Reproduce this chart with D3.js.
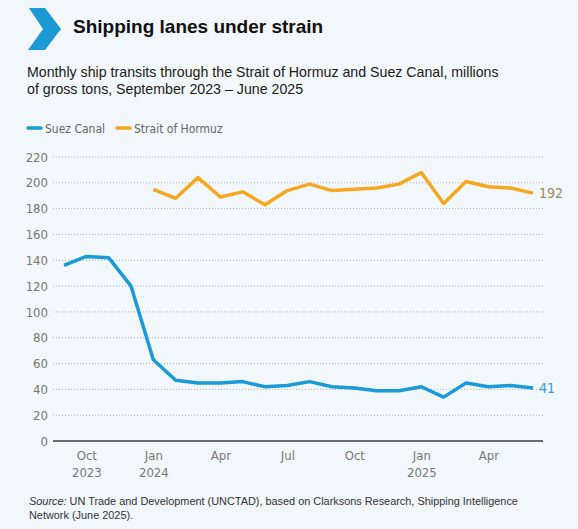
<!DOCTYPE html>
<html lang="en">
<head>
    <meta charset="UTF-8">
    <title>Shipping lanes under strain</title>
    <script src="https://cdn.jsdelivr.net/npm/d3@7/dist/d3.min.js"></script>
    <style>
        body {
            margin: 0;
            padding: 0;
            background: #f2f7fb;
        }
        svg text {
            font-family: "Liberation Sans", Arial, sans-serif;
        }
        .narrow {
            font-family: "Liberation Sans Narrow", "DejaVu Sans Condensed", "Liberation Sans", sans-serif !important;
        }
    </style>
</head>
<body>
<svg width="578" height="529" id="mainsvg"></svg>
<script>
    // Sep 2023 .. Jun 2025, one entry per month
    const months = ["2023-09", "2023-10", "2023-11", "2023-12",
        "2024-01", "2024-02", "2024-03", "2024-04", "2024-05", "2024-06",
        "2024-07", "2024-08", "2024-09", "2024-10", "2024-11", "2024-12",
        "2025-01", "2025-02", "2025-03", "2025-04", "2025-05", "2025-06"];
    const suez = [136, 143, 142, 120, 63, 47, 45, 45, 46, 42, 43, 46, 42, 41, 39, 39,
        42, 34, 45, 42, 43, 41];
    // Hormuz series starts in Jan 2024
    const hormuz = [null, null, null, null, 195, 188, 204, 189, 193, 183, 194, 199, 194, 195, 196, 199,
        208, 184, 201, 197, 196, 192];
    const tickMonths = ["2023-10", "2024-01", "2024-04", "2024-07", "2024-10", "2025-01", "2025-04"];
    const tickLine1 = ["Oct", "Jan", "Apr", "Jul", "Oct", "Jan", "Apr"];
    const tickLine2 = ["2023", "2024", "", "", "", "2025", ""];
    const yTicks = [0, 20, 40, 60, 80, 100, 120, 140, 160, 180, 200, 220];

    const blue = "#1b9ad6";
    const orange = "#f5a81f";

    const svg = d3.select("#mainsvg");

    // header
    svg.append("path")
        .attr("d", "M29,8 L45,8 L61,29 L45,50 L28,50 L43,29 Z")
        .attr("fill", blue);
    svg.append("text")
        .attr("x", 73).attr("y", 33)
        .attr("font-size", "19px")
        .attr("font-weight", "bold")
        .attr("fill", "#111")
        .text("Shipping lanes under strain");
    let sub = svg.append("text")
        .attr("font-size", "14.2px")
        .attr("fill", "#1a1a1a");
    sub.append("tspan").attr("x", 27).attr("y", 77)
        .text("Monthly ship transits through the Strait of Hormuz and Suez Canal, millions");
    sub.append("tspan").attr("x", 27).attr("y", 94)
        .text("of gross tons, September 2023 \u2013 June 2025");

    // legend
    let legend = [["Suez Canal", blue, 28], ["Strait of Hormuz", orange, 117]];
    for (let i = 0; i < legend.length; ++i) {
        svg.append("line")
            .attr("x1", legend[i][2]).attr("x2", legend[i][2] + 13)
            .attr("y1", 128).attr("y2", 128)
            .attr("stroke", legend[i][1])
            .attr("stroke-width", 3.5)
            .attr("stroke-linecap", "round");
        svg.append("text")
            .attr("class", "narrow")
            .attr("x", legend[i][2] + 17).attr("y", 132.5)
            .attr("font-size", "12px")
            .attr("fill", "#666")
            .text(legend[i][0]);
    }

    // scales
    const x = d3.scaleLinear().domain([0, months.length - 1]).range([64, 533]);
    const y = d3.scaleLinear().domain([0, 220]).range([441, 157]);
    const left = 53, right = 543;

    // grid + y labels
    const yAxis = d3.axisLeft(y).tickValues(yTicks).tickSize(0).tickPadding(0);
    let gy = svg.append("g").attr("transform", "translate(48,0)").call(yAxis);
    gy.select(".domain").remove();
    gy.selectAll("text")
        .attr("class", "narrow")
        .attr("font-size", "13px")
        .attr("fill", "#777");
    svg.append("g").selectAll("line")
        .data(yTicks.filter(d => d > 0))
        .join("line")
        .attr("x1", left).attr("x2", right)
        .attr("y1", d => y(d)).attr("y2", d => y(d))
        .attr("stroke", "#aab0b6")
        .attr("stroke-width", 1)
        .attr("stroke-dasharray", "1,2");
    svg.append("line")
        .attr("x1", left).attr("x2", right)
        .attr("y1", y(0)).attr("y2", y(0))
        .attr("stroke", "#3a3a3a")
        .attr("stroke-width", 1.6);

    // x labels
    const xAxis = d3.axisBottom(x)
        .tickValues(tickMonths.map(m => months.indexOf(m)))
        .tickSize(0)
        .tickFormat("");
    let gx = svg.append("g").attr("transform", "translate(0," + y(0) + ")").call(xAxis);
    gx.select(".domain").remove();
    gx.selectAll(".tick").each(function (d, i) {
        let t = d3.select(this).append("text")
            .attr("class", "narrow")
            .attr("text-anchor", "middle")
            .attr("font-size", "13px")
            .attr("fill", "#777");
        t.append("tspan").attr("x", 0).attr("y", 19).text(tickLine1[i]);
        t.append("tspan").attr("x", 0).attr("y", 36).text(tickLine2[i]);
    });

    // lines
    const line = d3.line()
        .defined(d => d != null)
        .x((d, i) => x(i))
        .y(d => y(d));
    svg.append("path")
        .datum(hormuz)
        .attr("d", line)
        .attr("fill", "none")
        .attr("stroke", orange)
        .attr("stroke-width", 3.5)
        .attr("stroke-linejoin", "round");
    svg.append("path")
        .datum(suez)
        .attr("d", line)
        .attr("fill", "none")
        .attr("stroke", blue)
        .attr("stroke-width", 3.5)
        .attr("stroke-linejoin", "round");

    // end labels
    let last = months.length - 1;
    svg.append("text")
        .attr("class", "narrow")
        .attr("x", x(last) + 6).attr("y", y(hormuz[last]) + 5)
        .attr("font-size", "14px")
        .attr("fill", "#a08a5c")
        .text(hormuz[last]);
    svg.append("text")
        .attr("class", "narrow")
        .attr("x", x(last) + 6).attr("y", y(suez[last]) + 5)
        .attr("font-size", "14px")
        .attr("fill", "#3a9fd4")
        .text(suez[last]);

    // source
    let src = svg.append("text")
        .attr("font-size", "10.9px")
        .attr("fill", "#333");
    let l1 = src.append("tspan").attr("x", 29).attr("y", 505);
    l1.append("tspan").attr("font-style", "italic").text("Source:");
    l1.append("tspan").text(" UN Trade and Development (UNCTAD), based on Clarksons Research, Shipping Intelligence");
    src.append("tspan").attr("x", 29).attr("y", 519).text("Network (June 2025).");
</script>
</body>
</html>
